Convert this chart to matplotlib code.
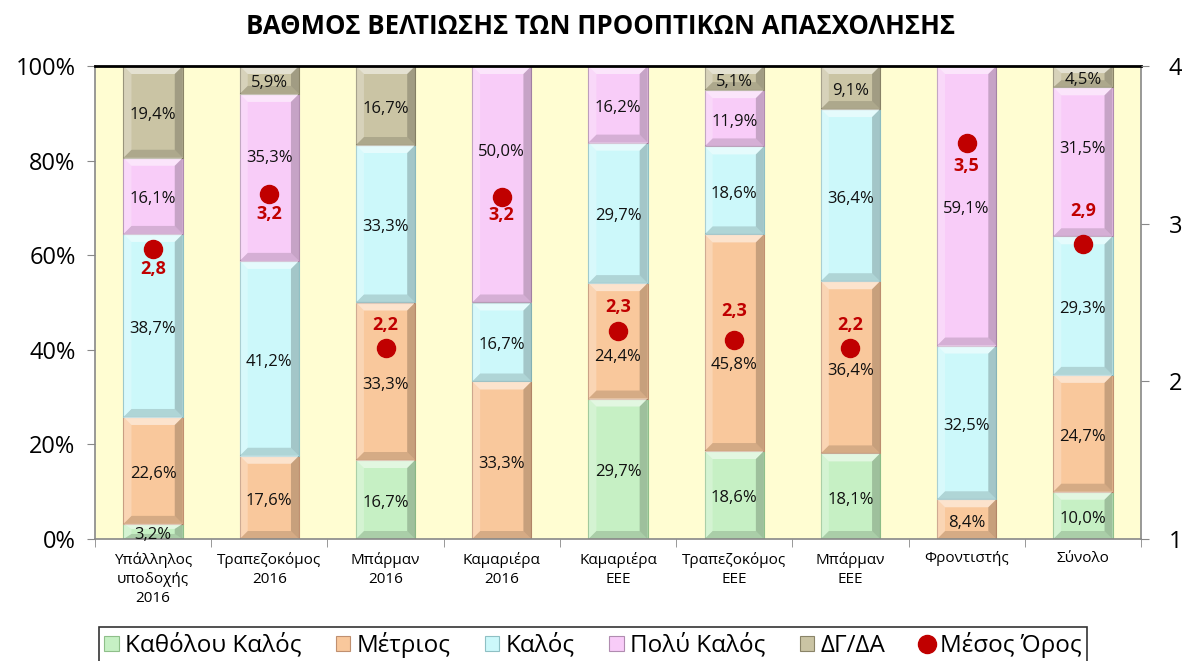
import matplotlib
matplotlib.use("Agg")
import matplotlib.pyplot as plt
import numpy as np
from matplotlib.ticker import FixedLocator, FuncFormatter
from matplotlib.patches import Polygon

plt.rcParams['font.family'] = ['Open Sans', 'DejaVu Sans']

categories = ["Υπάλληλος\nυποδοχής\n2016", "Τραπεζοκόμος\n2016", "Μπάρμαν\n2016",
              "Καμαριέρα\n2016", "Καμαριέρα\nΕΕΕ", "Τραπεζοκόμος\nΕΕΕ",
              "Μπάρμαν\nΕΕΕ", "Φροντιστής", "Σύνολο"]
series_names = ["Καθόλου Καλός", "Μέτριος", "Καλός", "Πολύ Καλός", "ΔΓ/ΔΑ"]
kathologu = [3.2, 0, 16.7, 0, 29.7, 18.6, 18.1, 0, 10.0]
metrios = [22.6, 17.6, 33.3, 33.3, 24.4, 45.8, 36.4, 8.4, 24.7]
kalos = [38.7, 41.2, 33.3, 16.7, 29.7, 18.6, 36.4, 32.5, 29.3]
poly_kalos = [16.1, 35.3, 0, 50.0, 16.2, 11.9, 0, 59.1, 31.5]
dg_da = [19.4, 5.9, 16.7, 0, 0, 5.1, 9.1, 0, 4.5]
mean_score = [2.84, 3.19, 2.21, 3.17, 2.32, 2.26, 2.21, 3.51, 2.87]
mean_label_dy = [-14.5, -14.5, 17, -13, 17, 21, 17, -16.5, 24]   # points
label_nudge = {(1, 4): -12, (1, 5): -16, (3, 1): 14, (3, 3): 23, (3, 8): 9}  # points

series = [kathologu, metrios, kalos, poly_kalos, dg_da]
colors = ["#C6F0C4", "#F9C89C", "#CCF8FA", "#F8CCF8", "#CAC4A4"]
edges = ["#8FBF8A", "#C09070", "#8FC0C4", "#B08CB0", "#8A8468"]

fig = plt.figure(figsize=(11.83, 6.61), dpi=100)
ax = fig.add_axes([95/1183, 1-539/661, (1141-95)/1183, (539-66)/661])
ax.set_facecolor("#FFFDD2")
ax.set_xlim(-0.5, len(categories) - 0.5)
ax.set_ylim(0, 100)


def bevel(patch):
    x0, y0 = patch.get_x(), patch.get_y()
    w, h = patch.get_width(), patch.get_height()
    if h <= 0:
        return
    bx = 8 / (ax.bbox.width / 9.0)
    by = min(8 / (ax.bbox.height / 100.0), h / 3.0)
    x1, y1 = x0 + w, y0 + h
    pieces = [
        ([(x0, y1), (x1, y1), (x1 - bx, y1 - by), (x0 + bx, y1 - by)], "white", 0.5),
        ([(x0, y0), (x1, y0), (x1 - bx, y0 + by), (x0 + bx, y0 + by)], "black", 0.14),
        ([(x0, y0), (x0, y1), (x0 + bx, y1 - by), (x0 + bx, y0 + by)], "white", 0.25),
        ([(x1, y0), (x1, y1), (x1 - bx, y1 - by), (x1 - bx, y0 + by)], "black", 0.2),
    ]
    for pts, col, a in pieces:
        ax.add_patch(Polygon(pts, closed=True, facecolor=col, alpha=a,
                             edgecolor="none", zorder=2.5))


x = np.arange(len(categories))
bottom = np.zeros(len(categories))
handles = []
for si, (vals, name, c, ec) in enumerate(zip(series, series_names, colors, edges)):
    v = np.array(vals, dtype=float)
    bars = ax.bar(x, v, 0.51, bottom=bottom, color=c, edgecolor=ec, linewidth=0.8,
                  label=name, zorder=2)
    handles.append(bars)
    for p in bars.patches:
        bevel(p)
    for ci, (xi, b, val) in enumerate(zip(x, bottom, v)):
        if val > 0:
            dy = label_nudge.get((si, ci), -2.5)
            ax.annotate(f"{val:.1f}%".replace(".", ","), (xi, b + val / 2),
                        xytext=(0, dy), textcoords="offset points", ha="center",
                        va="center", fontsize=12, color="#111111", zorder=4)
    bottom += v

ax.yaxis.set_major_locator(FixedLocator([0, 20, 40, 60, 80, 100]))
ax.yaxis.set_major_formatter(FuncFormatter(lambda v, p: f"{int(v)}%"))
ax.tick_params(axis="y", labelsize=17, direction="out", length=6, color="#888888", pad=8)
ax.set_xticks(x)
ax.set_xticklabels(categories, fontsize=11, linespacing=1.4)
ax.tick_params(axis="x", which="major", length=0, pad=9)
ax.set_xticks(np.arange(-0.5, len(categories), 1.0), minor=True)
ax.tick_params(axis="x", which="minor", length=6, color="#888888", direction="out")
for s in ["left", "bottom", "right"]:
    ax.spines[s].set_color("#888888")
    ax.spines[s].set_linewidth(1.2)
ax.spines["top"].set_color("black")
ax.spines["top"].set_linewidth(2)

ax2 = ax.twinx()
ax2.set_ylim(1, 4)
ax2.yaxis.set_major_locator(FixedLocator([1, 2, 3, 4]))
ax2.tick_params(axis="y", labelsize=17, direction="out", length=6, color="#888888", pad=14)
for s in ["left", "bottom", "right", "top"]:
    ax2.spines[s].set_visible(False)
dots = ax2.plot(x, mean_score, "o", color="#C00000", markersize=13, linestyle="none",
                label="Μέσος Όρος", zorder=5)[0]
for xi, m, dy in zip(x, mean_score, mean_label_dy):
    ax2.annotate(f"{m:.1f}".replace(".", ","), (xi, m), xytext=(0, dy),
                 textcoords="offset points", ha="center", va="center", fontsize=13,
                 fontweight="bold", color="#C00000", zorder=6)

fig.suptitle("ΒΑΘΜΟΣ ΒΕΛΤΙΩΣΗΣ ΤΩΝ ΠΡΟΟΠΤΙΚΩΝ ΑΠΑΣΧΟΛΗΣΗΣ", x=0.508, y=1-26/661,
             va="center", fontsize=18.5, fontweight="bold")

leg = fig.legend(handles + [dots], series_names + ["Μέσος Όρος"], ncol=6,
                 loc="upper center", bbox_to_anchor=(593/1183, 1-627/661),
                 fontsize=17.5, frameon=True, fancybox=False, edgecolor="black",
                 handlelength=0.6, handleheight=0.6, handletextpad=0.25,
                 columnspacing=1.42, borderpad=0.2, borderaxespad=0)
leg.get_frame().set_linewidth(1.2)

fig.savefig("out.png", dpi=100)
